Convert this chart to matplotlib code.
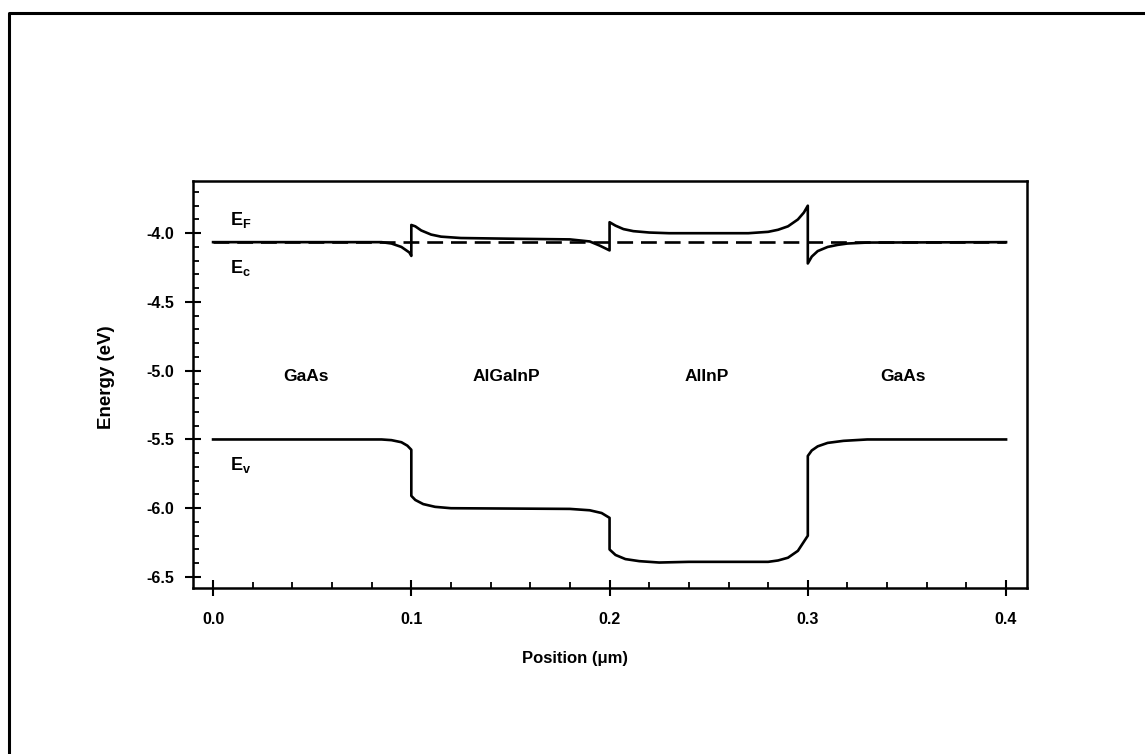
import matplotlib
matplotlib.use("Agg")
import matplotlib.pyplot as plt
from matplotlib.lines import Line2D
from matplotlib.ticker import MultipleLocator

plt.rcParams['font.family'] = ['Liberation Sans', 'DejaVu Sans']
plt.rcParams['font.weight'] = 'bold'
plt.rcParams['mathtext.fontset'] = 'custom'
plt.rcParams['mathtext.rm'] = 'Liberation Sans:bold'

# Fermi level (dashed)
ef_x = [0.0, 0.4]
ef_y = [-4.065, -4.065]

# conduction band edge
ec_x = [0.0, 0.085, 0.09, 0.095, 0.099, 0.1, 0.1, 0.102, 0.105, 0.11, 0.115, 0.125,
        0.15, 0.18, 0.19, 0.195, 0.2, 0.2, 0.203, 0.207, 0.212, 0.22, 0.23, 0.27,
        0.28, 0.285, 0.29, 0.295, 0.298, 0.3, 0.3, 0.302, 0.305, 0.31, 0.315, 0.32,
        0.33, 0.4]
ec_y = [-4.065, -4.065, -4.075, -4.10, -4.14, -4.165, -3.94, -3.95, -3.98, -4.01, -4.025, -4.035,
        -4.04, -4.045, -4.06, -4.09, -4.125, -3.92, -3.945, -3.97, -3.985, -3.995, -4.0, -4.0,
        -3.99, -3.975, -3.95, -3.9, -3.85, -3.80, -4.22, -4.17, -4.13, -4.10, -4.085, -4.075,
        -4.068, -4.065]

# valence band edge
ev_x = [0.0, 0.085, 0.09, 0.095, 0.098, 0.1, 0.1, 0.102, 0.106, 0.112, 0.12, 0.18,
        0.19, 0.196, 0.2, 0.2, 0.203, 0.208, 0.215, 0.225, 0.24, 0.28, 0.285, 0.29,
        0.295, 0.3, 0.3, 0.302, 0.305, 0.31, 0.318, 0.33, 0.4]
ev_y = [-5.5, -5.5, -5.505, -5.52, -5.545, -5.575, -5.91, -5.94, -5.97, -5.99, -6.0, -6.005,
        -6.015, -6.035, -6.07, -6.30, -6.34, -6.37, -6.385, -6.395, -6.39, -6.39, -6.38, -6.36,
        -6.31, -6.2, -5.62, -5.58, -5.55, -5.525, -5.51, -5.5, -5.5]

layers = ["GaAs", "AlGaInP", "AlInP", "GaAs"]
layer_x = [0.047, 0.148, 0.249, 0.348]
layer_y = -5.04

fig = plt.figure(figsize=(11.45, 7.54), dpi=100)
ax = fig.add_axes([0.1686, 0.2202, 0.7284, 0.5398])

ax.plot(ec_x, ec_y, color='black', lw=1.9)
ax.plot(ev_x, ev_y, color='black', lw=1.9)
ax.plot(ef_x, ef_y, color='black', lw=1.9, dashes=(6, 3))

for name, x in zip(layers, layer_x):
    ax.text(x, layer_y, name, ha='center', va='center', fontsize=12.5, fontweight='bold')

ax.text(0.0085, -3.905, r'E$_\mathrm{F}$', ha='left', va='center', fontsize=13)
ax.text(0.0085, -4.254, r'E$_\mathrm{c}$', ha='left', va='center', fontsize=13)
ax.text(0.0085, -5.686, r'E$_\mathrm{v}$', ha='left', va='center', fontsize=13)

ax.set_xlim(-0.0101, 0.4106)
ax.set_ylim(-6.58, -3.62)
ax.xaxis.set_major_locator(MultipleLocator(0.1))
ax.xaxis.set_minor_locator(MultipleLocator(0.02))
ax.yaxis.set_major_locator(MultipleLocator(0.5))
ax.yaxis.set_minor_locator(MultipleLocator(0.1))
ax.xaxis.set_major_formatter(plt.FormatStrFormatter('%.1f'))
ax.yaxis.set_major_formatter(plt.FormatStrFormatter('%.1f'))
ax.tick_params(which='major', direction='inout', length=11, width=1.5, labelsize=11.5)
ax.tick_params(axis='y', which='major', pad=8)
ax.tick_params(axis='x', which='major', pad=12)
ax.tick_params(which='minor', direction='in', length=4, width=1.3)
for lab in ax.get_xticklabels() + ax.get_yticklabels():
    lab.set_fontweight('bold')
for sp in ax.spines.values():
    sp.set_linewidth(1.8)

fig.text(0.0934, 0.5, 'Energy (eV)', rotation=90, ha='center', va='center', fontsize=13.5, fontweight='bold')
fig.text(0.502, 0.127, 'Position (\u03bcm)', ha='center', va='center', fontsize=12, fontweight='bold')

# outer frame (left and top edges visible)
fig.add_artist(Line2D([0.0079, 0.0079, 1.0], [0.0, 0.9828, 0.9828], transform=fig.transFigure,
                      color='black', lw=2.2))

fig.savefig('out.png', dpi=100)
